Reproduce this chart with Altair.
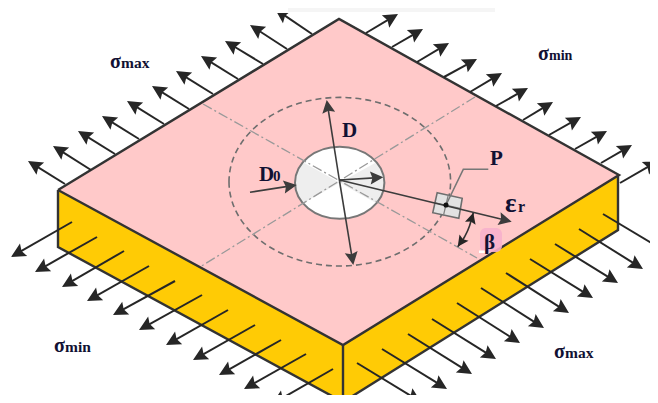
import altair as alt
import numpy as np
import pandas as pd

W, H = 642, 387
X = alt.X("x:Q", scale=alt.Scale(domain=[8, 650]), axis=None)
Y = alt.Y("y:Q", scale=alt.Scale(domain=[395, 8]), axis=None)
X2 = alt.X2("x2:Q")
Y2 = alt.Y2("y2:Q")

# Faces of the plate
top_x = [58, 339, 343, 619]
top_y = [190, 19, 21, 175]
top_y2 = [190, 343, 345, 175]
side_x = [58, 343, 618]
side_y = [190, 345, 175]
side_y2 = [247, 402, 230]
edges = [
    [(58, 190), (339, 19), (619, 175), (343, 345), (58, 190)],
    [(58, 190), (58, 247), (343, 402), (618, 230), (618, 175)],
    [(343, 345), (343, 402)],
]

# Stress arrows: start -> tip
a1_x0 = [65, 91, 115, 139, 164, 189, 213, 238, 263, 287, 312]
a1_y0 = [184, 170, 154, 139, 124, 109, 94, 79, 64, 49, 34]
a1_x1 = [28, 53, 78, 102, 127, 152, 176, 201, 225, 250, 275]
a1_y1 = [161, 146, 131, 116, 101, 86, 71, 56, 41, 25, 9]

a2_x0 = [366, 392, 417, 444, 470, 496, 523, 549, 575, 601, 620]
a2_y0 = [33, 47, 62, 77, 92, 106, 120, 135, 149, 163, 183]
a2_x1 = [398, 423, 449, 477, 502, 528, 553, 581, 607, 632, 658]
a2_y1 = [14, 29, 43, 59, 73, 88, 102, 117, 131, 145, 161]

a3_x0 = [72, 97, 124, 149, 175, 202, 228, 255, 281, 306, 333]
a3_y0 = [222, 237, 251, 266, 281, 295, 310, 325, 340, 354, 369]
a3_x1 = [11, 35, 62, 87, 113, 139, 166, 193, 219, 244, 272]
a3_y1 = [257, 272, 287, 301, 315, 330, 345, 360, 375, 389, 404]

a4_x0 = [357, 382, 408, 432, 457, 481, 506, 530, 555, 579, 603]
a4_y0 = [363, 349, 334, 319, 303, 288, 273, 259, 244, 229, 214]
a4_x1 = [421, 447, 472, 496, 520, 544, 569, 593, 618, 643, 668]
a4_y1 = [402, 389, 374, 359, 343, 328, 313, 298, 283, 269, 253]

# Inner dark arrows: start -> tip
inner = [
    (339.5, 181, 326.7, 100),
    (339.5, 181, 353.3, 265),
    (250, 192.3, 296.7, 185),
    (339.5, 180, 383.3, 177.3),
    (339.5, 180, 511.7, 221.7),
]

dashdot = [(203, 104, 477, 258), (475, 97, 200, 267)]
square_center = [(447, 205.5)]
cross = [(448.3, 195, 443.3, 216), (434.3, 202.7, 460, 208.3)]
leader_x = [446, 463.3, 488.3]
leader_y = [205, 169.3, 169.3]
beta_x = [473.3, 469.5, 464.5, 457.7]
beta_y = [212.7, 226, 237, 246.7]

texts = ["σ", "max", "σ", "min", "σ", "min", "σ", "max", "D", "D", "0", "P", "ε", "r", "β"]
text_x = [110, 121, 538, 549, 54, 65, 554, 565, 342, 259, 273, 490, 505, 518, 484]
text_y = [68, 68, 60, 60, 352, 352, 358, 358, 137, 181, 181, 165, 212, 212, 249]
text_size = [20, 15.5, 20, 14, 20, 15.5, 20, 15.5, 21, 21, 15, 21, 27, 16, 21]

ARROW = "M0,0 L0.5,1 L0,0.84 L-0.5,1 Z"
HOLE = "M-44.7,0 A44.7,36 0 1,0 44.7,0 A44.7,36 0 1,0 -44.7,0 Z"
HOLE_L = "M0,0 L-36.7,-20.5 L-41,-14 L-44,-6 L-44.7,0 L-44,6 L-41,14 L-36.7,20.5 Z"
HOLE_R = "M0,0 L36.7,-20.5 L41,-14 L44,-6 L44.7,0 L44,6 L41,14 L36.7,20.5 Z"
RING = "M-110.8,0 A110.8,84.3 0 1,0 110.8,0 A110.8,84.3 0 1,0 -110.8,0 Z"
SQUARE = "M-9.8,-12.8 L15.2,-7.2 L11.8,12.8 L-14.2,7.2 Z"


def seg_df(x0, y0, x1, y1):
    df = pd.DataFrame({"x": x0, "y": y0, "x2": x1, "y2": y1}).astype(float)
    df["angle"] = np.degrees(np.arctan2(df.x2 - df.x, df.y - df.y2)) % 360
    return df


def head_layer(df, color, head_px):
    tips = pd.DataFrame({"x": df.x2, "y": df.y2, "angle": df.angle})
    return alt.Chart(tips).mark_point(
        shape=ARROW, filled=True, color=color, opacity=1, size=4 * head_px ** 2, strokeWidth=0
    ).encode(X, Y, angle=alt.Angle("angle:Q", scale=None))


def arrows(df, color, width, head_px):
    length = np.hypot(df.x2 - df.x, df.y2 - df.y)
    shaft = df.copy()
    shaft["x2"] = df.x2 - (df.x2 - df.x) / length * head_px * 0.7
    shaft["y2"] = df.y2 - (df.y2 - df.y) / length * head_px * 0.7
    rule = alt.Chart(shaft).mark_rule(color=color, strokeWidth=width).encode(X, Y, X2, Y2)
    return rule + head_layer(df, color, head_px)


def poly(xs, ys, y2s, color):
    return alt.Chart(pd.DataFrame({"x": xs, "y": ys, "y2": y2s})).mark_area(
        color=color, opacity=1, interpolate="linear", orient="vertical"
    ).encode(X, Y, Y2)


def path(points, color, width, **kw):
    df = pd.DataFrame(points, columns=["x", "y"])
    df["i"] = range(len(df))
    return alt.Chart(df).mark_line(color=color, strokeWidth=width, **kw).encode(X, Y, order="i:Q")


def symbol(x, y, shape, **kw):
    return alt.Chart(pd.DataFrame({"x": [x], "y": [y]})).mark_point(
        shape=shape, size=4, opacity=1, **kw
    ).encode(X, Y)


def rect(x, x2, y, y2, color, **kw):
    return alt.Chart(pd.DataFrame({"x": [x], "x2": [x2], "y": [y], "y2": [y2]})).mark_rect(
        color=color, **kw
    ).encode(X, X2, Y, Y2)


layers = [
    poly(top_x, top_y, top_y2, "#FFC9C9"),
    poly(side_x, side_y, side_y2, "#FFCB05"),
]
for e in edges:
    layers.append(path(e, "#333333", 2.4, strokeJoin="miter"))

for (x0, y0, x1, y1) in [
    (a1_x0, a1_y0, a1_x1, a1_y1),
    (a2_x0, a2_y0, a2_x1, a2_y1),
    (a3_x0, a3_y0, a3_x1, a3_y1),
    (a4_x0, a4_y0, a4_x1, a4_y1),
]:
    layers.append(arrows(seg_df(x0, y0, x1, y1), "#262626", 2, 14.5))

# Cropped top of the source image with faint watermark
layers.append(rect(8, 650, 8, 13, "#FFFFFF"))
layers.append(rect(288, 495, 8, 12, "#F5F5F5"))

# Hole and dashed ring
layers.append(symbol(339.7, 182.8, HOLE, filled=True, fill="#FFFFFF", strokeWidth=0))
layers.append(symbol(339.7, 182.8, HOLE_L, filled=True, fill="#EEEEEE", strokeWidth=0))
layers.append(symbol(339.7, 182.8, HOLE_R, filled=True, fill="#EEEEEE", strokeWidth=0))
layers.append(symbol(339.7, 182.8, HOLE, filled=False, stroke="#777777", strokeWidth=2))
layers.append(symbol(339.8, 181.7, RING, filled=False, stroke="#6E6E6E", strokeWidth=1.6, strokeDash=[6, 4]))

dd = pd.DataFrame(dashdot, columns=["x", "y", "x2", "y2"])
layers.append(alt.Chart(dd).mark_rule(color="#999999", strokeWidth=1.3, strokeDash=[10, 3, 2, 3]).encode(X, Y, X2, Y2))

# Gauge square
sx, sy = square_center[0]
layers.append(symbol(sx, sy, SQUARE, filled=True, fill="#E2E2E2", stroke="#6E6E6E", strokeWidth=1.6))
cr = pd.DataFrame(cross, columns=["x", "y", "x2", "y2"])
layers.append(alt.Chart(cr).mark_rule(color="#808080", strokeWidth=1.2).encode(X, Y, X2, Y2))

# Inner arrows
ii = pd.DataFrame(inner, columns=["x0", "y0", "x1", "y1"])
layers.append(arrows(seg_df(ii.x0, ii.y0, ii.x1, ii.y1), "#3C3C3C", 1.6, 13))
layers.append(path(list(zip(leader_x, leader_y)), "#777777", 1.5))
layers.append(
    alt.Chart(pd.DataFrame({"x": [446], "y": [205]})).mark_point(
        filled=True, color="#111111", size=26, opacity=1
    ).encode(X, Y)
)

# Angle marker
layers.append(path(list(zip(beta_x, beta_y)), "#333333", 1.6, interpolate="monotone"))
bh = seg_df([beta_x[1], beta_x[2]], [beta_y[1], beta_y[2]], [beta_x[0], beta_x[3]], [beta_y[0], beta_y[3]])
layers.append(head_layer(bh, "#262626", 11))

# Pink highlight behind beta
layers.append(rect(480, 502, 228, 252, "#F7B0CC", cornerRadius=6, opacity=0.9))
layers.append(rect(479, 485, 250.5, 253, "#FFFFFF"))

# Labels
tx = pd.DataFrame({"t": texts, "x": text_x, "y": text_y, "s": text_size})
layers.append(
    alt.Chart(tx).mark_text(
        font="Liberation Serif", fontWeight="bold", align="left", baseline="alphabetic", color="#111133"
    ).encode(X, Y, text="t:N", size=alt.Size("s:Q", scale=None))
)

chart = alt.layer(*layers).properties(
    width=W, height=H, padding=0, autosize=alt.AutoSizeParams(type="none"), background="#FFFFFF"
).configure_view(stroke=None)

chart.save("out.html", embed_options={"renderer": "svg", "actions": False})
